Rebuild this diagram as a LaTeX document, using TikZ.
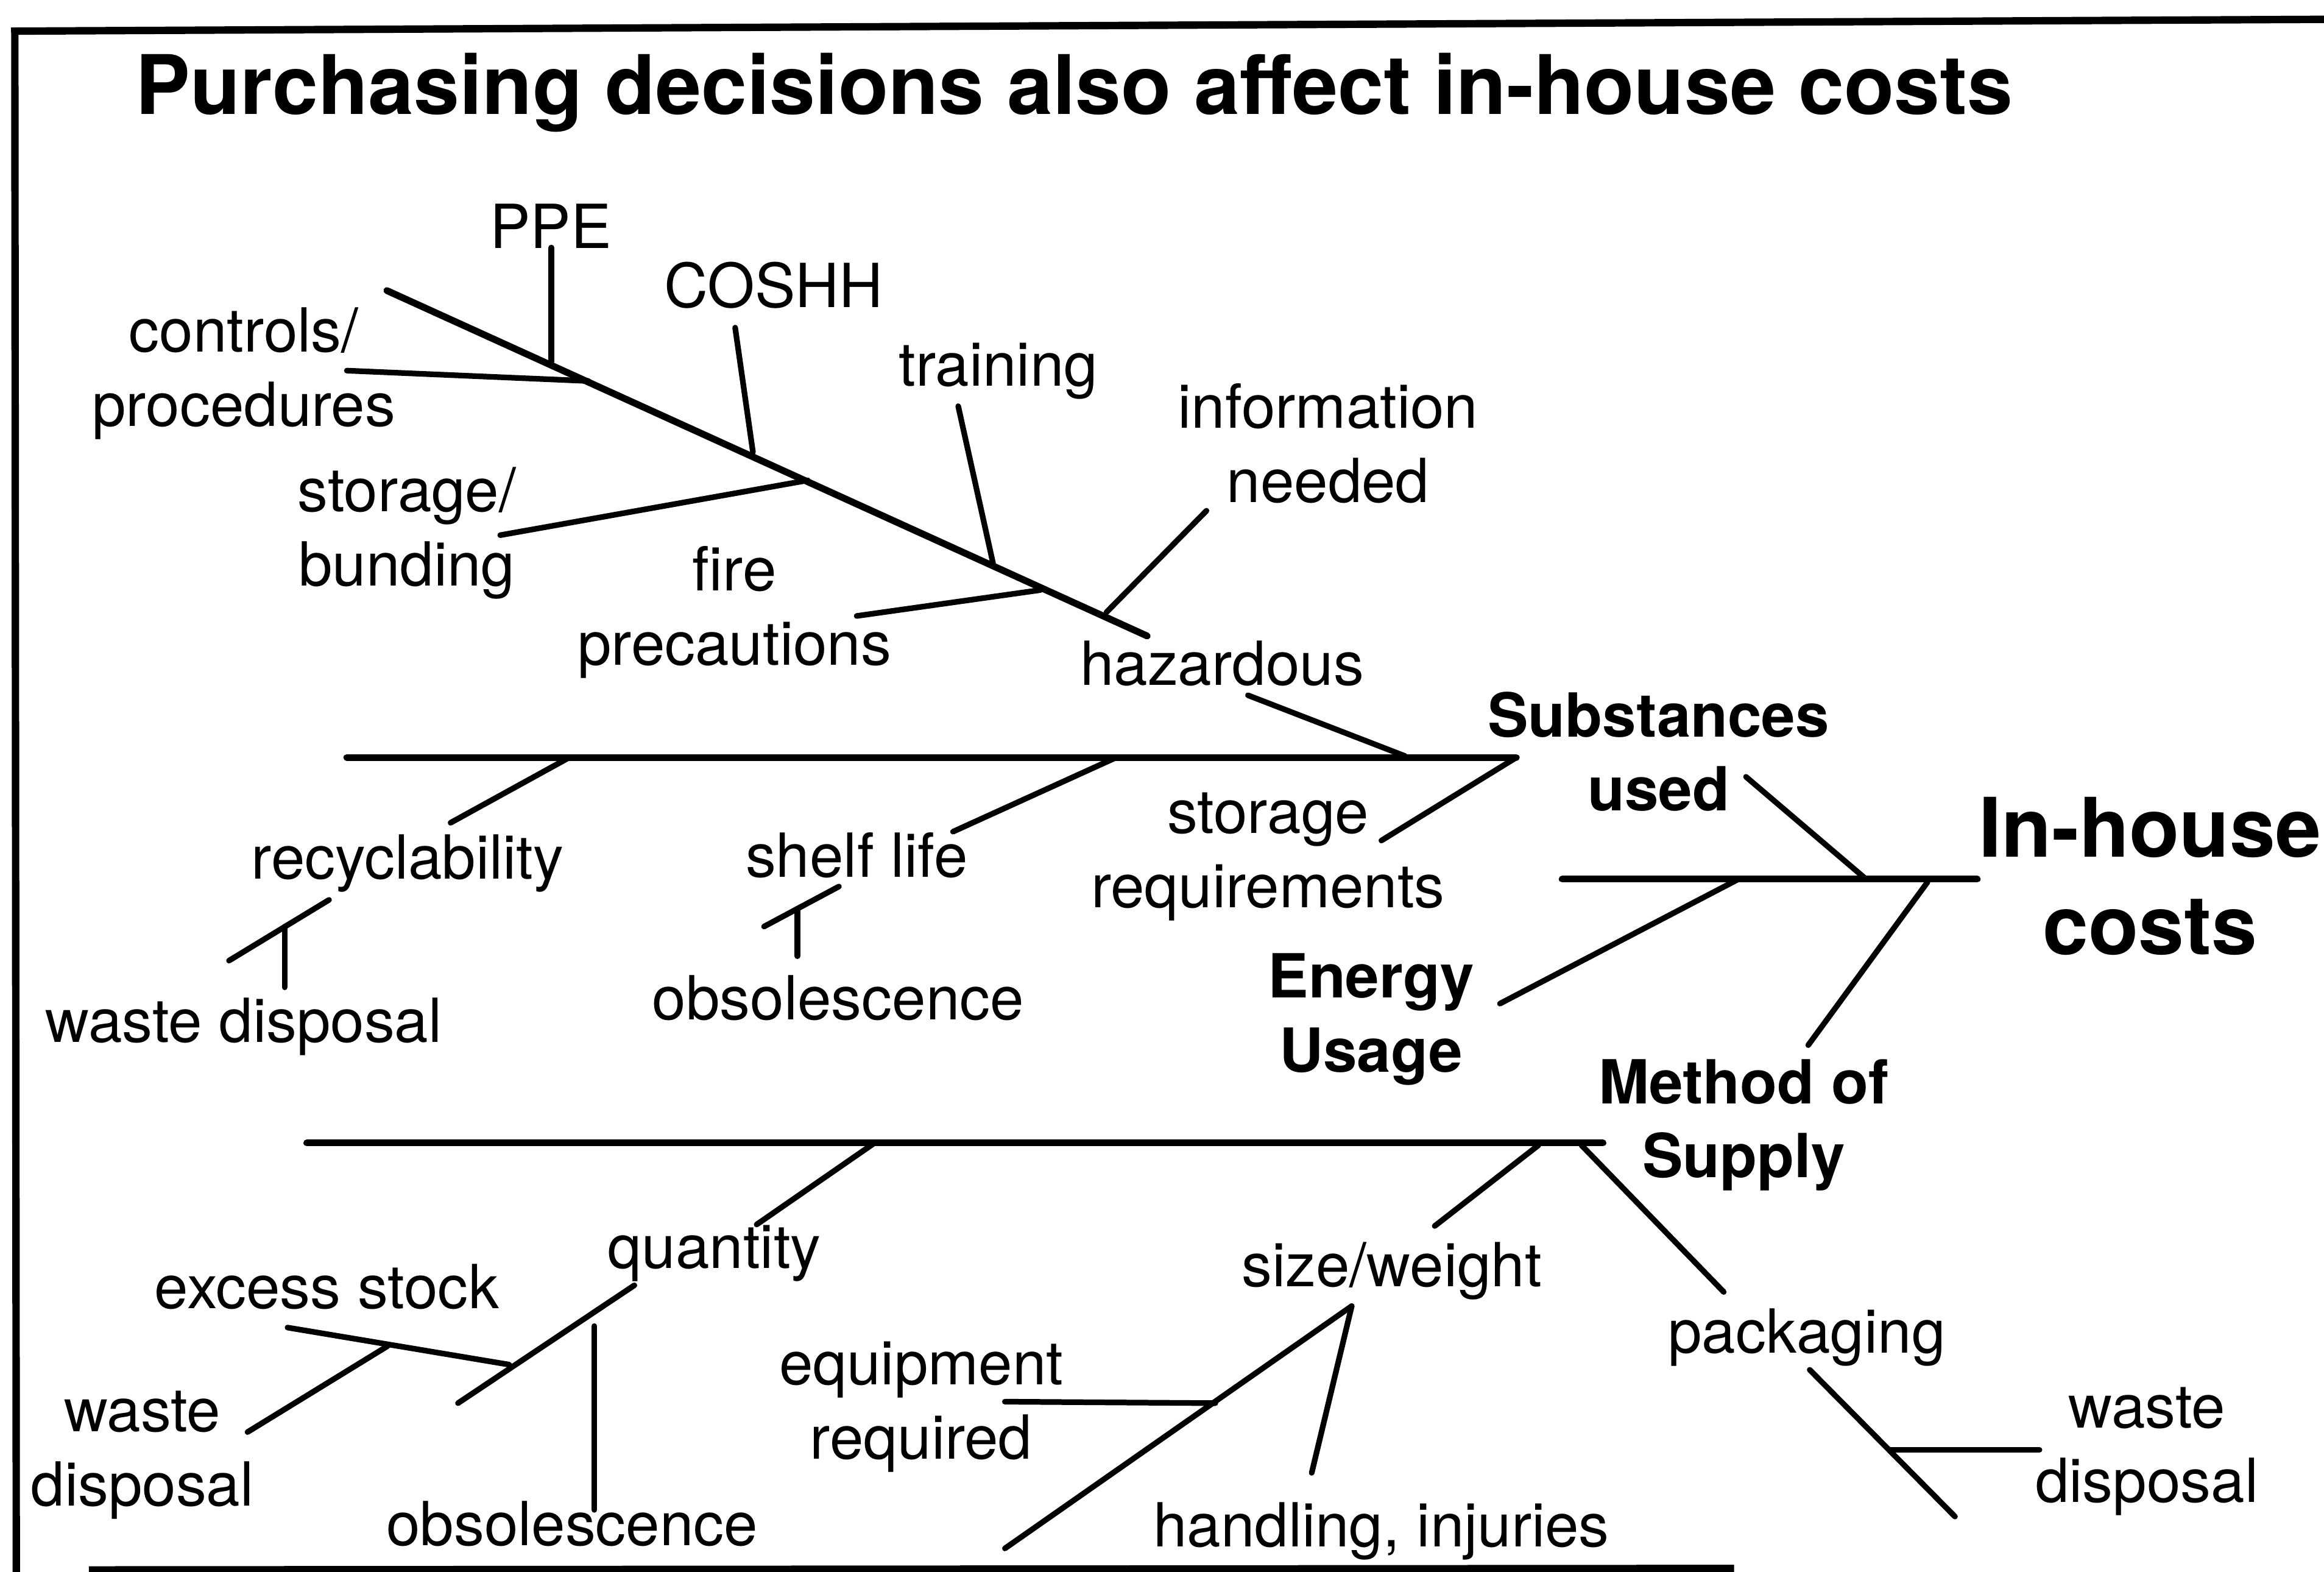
\documentclass[tikz,border=0pt]{standalone}
\usepackage{fontspec}
\setmainfont{TeX Gyre Heros}

\tikzset{
  lbl/.style={inner sep=0pt,align=center,font=\fontsize{20.5}{25}\selectfont},
  catlbl/.style={lbl,font=\fontsize{20.5}{25}\selectfont\bfseries},
  headlbl/.style={inner sep=0pt,align=center,font=\fontsize{27.7}{33}\selectfont\bfseries},
  bone/.style={line width=2.3pt,line cap=round},
  twig/.style={line width=1.9pt,line cap=round},
  frame/.style={line width=2.5pt}
}

\begin{document}
\begin{tikzpicture}[x=0.5pt,y=-0.5pt]
\useasboundingbox (0,0) rectangle (1568,1060);

% frame
\coordinate (ftl) at (10,21);
\coordinate (ftr) at (1575,13);
\coordinate (fbl) at (11,1064);
\coordinate (fbs) at (60,1059);
\coordinate (fbe) at (1170,1058);
\draw[frame] (ftr) -- (ftl) -- (fbl);
\draw[frame] (fbs) -- (fbe);

\node[headlbl,anchor=base west] (title) at (91,77) {Purchasing decisions also affect in-house costs};

% labels
\node[lbl] (ppe) at (371.5,152.5) {PPE};
\node[lbl] (ctrl) at (164.5,252) {controls/\\procedures};
\node[lbl] (coshh) at (522,192.5) {COSHH};
\node[lbl] (train) at (673.5,250.5) {training};
\node[lbl] (info) at (896,299) {information\\needed};
\node[lbl] (bund) at (274.5,359.5) {storage/\\bunding};
\node[lbl] (fire) at (495.5,413) {fire\\precautions};
\node[lbl] (haz) at (824.5,447.5) {hazardous};
\node[catlbl] (subs) at (1119,507) {Substances\\used};
\node[lbl] (recyc) at (275,582.5) {recyclability};
\node[lbl] (shelf) at (578,577) {shelf life};
\node[lbl] (storreq) at (855.5,578) {storage\\requirements};
\node[headlbl] (cost) at (1450.5,591) {In-house\\costs};
\node[lbl] (waste1) at (164.5,692.5) {waste disposal};
\node[lbl] (obs1) at (565.5,673) {obsolescence};
\node[catlbl] (energy) at (925,687.5) {Energy\\Usage};
\node[catlbl] (method) at (1176.5,759) {Method of\\Supply};
\node[lbl] (qty) at (482,845.5) {quantity};
\node[lbl] (excess) at (220.5,868) {excess stock};
\node[lbl] (waste2) at (96,981.5) {waste\\disposal};
\node[lbl] (obs2) at (386,1028) {obsolescence};
\node[lbl] (size) at (939,857.5) {size/weight};
\node[lbl] (equip) at (621.5,949) {equipment\\required};
\node[lbl] (handl) at (932,1033) {handling, injuries};
\node[lbl] (pack) at (1219,902) {packaging};
\node[lbl] (waste3) at (1448.5,979) {waste\\disposal};

% hazardous bone
\coordinate (hz0) at (261,196);
\coordinate (hz1) at (774,429);
\coordinate (ppeA) at (372,167);   \coordinate (ppeB) at (372,244);
\coordinate (ctrlA) at (234,250);  \coordinate (ctrlB) at (397,257);
\coordinate (coshA) at (496,221);  \coordinate (coshB) at (508,305);
\coordinate (bundA) at (337.5,361); \coordinate (bundB) at (545,324);
\coordinate (trA) at (646.5,274);  \coordinate (trB) at (670,380);
\coordinate (fireA) at (578,415.5); \coordinate (fireB) at (702,398);
\coordinate (infoA) at (814,344.5); \coordinate (infoB) at (746.5,413);
\coordinate (hazA) at (842,469);   \coordinate (hazB) at (948,510);
\draw[bone] (hz0) -- (hz1);
\draw[twig] (ppeA) -- (ppeB);
\draw[twig] (ctrlA) -- (ctrlB);
\draw[twig] (coshA) -- (coshB);
\draw[twig] (bundA) -- (bundB);
\draw[twig] (trA) -- (trB);
\draw[twig] (fireA) -- (fireB);
\draw[twig] (infoA) -- (infoB);
\draw[twig] (hazA) -- (hazB);

% substances bone
\coordinate (sb0) at (234,511);
\coordinate (sb1) at (1023,511);
\coordinate (recA) at (384,511);   \coordinate (recB) at (304,555);
\coordinate (recC) at (222,607);   \coordinate (recD) at (154.5,648);
\coordinate (recE) at (192,625);   \coordinate (recF) at (192,666);
\coordinate (shA) at (753,511);    \coordinate (shB) at (643,561);
\coordinate (shC) at (566,598);    \coordinate (shD) at (515.5,625);
\coordinate (shE) at (538,613);    \coordinate (shF) at (538,645);
\coordinate (srB) at (932,567);
\draw[bone] (sb0) -- (sb1);
\draw[twig] (recA) -- (recB);
\draw[twig] (recC) -- (recD);
\draw[twig] (recE) -- (recF);
\draw[twig] (shA) -- (shB);
\draw[twig] (shC) -- (shD);
\draw[twig] (shE) -- (shF);
\draw[twig] (sb1) -- (srB);

% spine
\coordinate (sp0) at (1054,593);
\coordinate (sp1) at (1334,593);
\coordinate (subA) at (1178,524);  \coordinate (subB) at (1259,593);
\coordinate (enA) at (1173,593);   \coordinate (enB) at (1012,677);
\coordinate (meA) at (1300.5,595); \coordinate (meB) at (1220,705);
\draw[bone] (sp0) -- (sp1);
\draw[twig] (subA) -- (subB);
\draw[twig] (enA) -- (enB);
\draw[twig] (meA) -- (meB);

% supply bone
\coordinate (mb0) at (207,771);
\coordinate (mb1) at (1081.5,771);
\coordinate (qA) at (590,771);     \coordinate (qB) at (510.5,826);
\coordinate (qC) at (428,867);     \coordinate (qD) at (309,946.5);
\coordinate (obA) at (401,894.5);  \coordinate (obB) at (401,1018.5);
\coordinate (exA) at (194,895.5);  \coordinate (exB) at (343.5,920.5);
\coordinate (wsA) at (261.5,908);  \coordinate (wsB) at (167,966);
\coordinate (szA) at (1038,772.5); \coordinate (szB) at (968,827);
\coordinate (szC) at (912,881);    \coordinate (szD) at (678,1044.5);
\coordinate (hnB) at (885,993.5);
\coordinate (eqA) at (678,945.5);  \coordinate (eqB) at (820,946.5);
\coordinate (pkA) at (1067,772.5); \coordinate (pkB) at (1163,871.5);
\coordinate (pkC) at (1221,924);   \coordinate (pkD) at (1319,1023);
\coordinate (wdA) at (1275,978);   \coordinate (wdB) at (1376,978);
\draw[bone] (mb0) -- (mb1);
\draw[twig] (qA) -- (qB);
\draw[twig] (qC) -- (qD);
\draw[twig] (obA) -- (obB);
\draw[twig] (exA) -- (exB);
\draw[twig] (wsA) -- (wsB);
\draw[twig] (szA) -- (szB);
\draw[twig] (szC) -- (szD);
\draw[twig] (szC) -- (hnB);
\draw[twig] (eqA) -- (eqB);
\draw[twig] (pkA) -- (pkB);
\draw[twig] (pkC) -- (pkD);
\draw[twig] (wdA) -- (wdB);
\end{tikzpicture}
\end{document}
